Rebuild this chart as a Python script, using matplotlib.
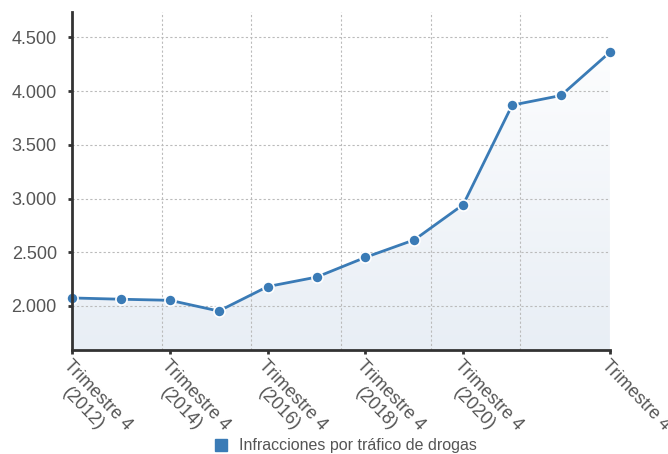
import numpy as np
import matplotlib
matplotlib.use("Agg")
import matplotlib.pyplot as plt
from matplotlib.patches import Polygon

plt.rcParams['font.family'] = ['Liberation Sans', 'DejaVu Sans']

# datos
years = list(range(2012, 2024))
values = [2075, 2063, 2053, 1953, 2181, 2269, 2453, 2616, 2944, 3870, 3960, 4363]
tick_idx = [0, 2, 4, 6, 8, 11]
tick_labels = ["Trimestre 4\n(2012)", "Trimestre 4\n(2014)", "Trimestre 4\n(2016)",
               "Trimestre 4\n(2018)", "Trimestre 4\n(2020)", "Trimestre 4"]
y_ticks = [2000, 2500, 3000, 3500, 4000, 4500]
y_labels = ["2.000", "2.500", "3.000", "3.500", "4.000", "4.500"]
series_name = "Infracciones por tráfico de drogas"

blue = "#3a7bb6"
text_col = "#555555"

fig = plt.figure(figsize=(6.68, 4.54), dpi=100)
ax = fig.add_axes([0.108, 0.229, 0.805, 0.744])

x = np.arange(len(values))
ymin, ymax = 1590, 4735
ax.set_xlim(0, len(values) - 1)
ax.set_ylim(ymin, ymax)

# relleno con degradado
grad = np.linspace(0, 1, 256).reshape(-1, 1)
img = ax.imshow(grad, extent=[0, len(values) - 1, ymin, ymax], origin='upper',
                aspect='auto', cmap=matplotlib.colors.LinearSegmentedColormap.from_list(
                    'g', ['#ffffff', '#e8eef5']), zorder=1)
poly = Polygon(list(zip(x, values)) + [(x[-1], ymin), (x[0], ymin)],
               closed=True, transform=ax.transData, facecolor='none', edgecolor='none')
ax.add_patch(poly)
img.set_clip_path(poly)

ax.plot(x, values, color=blue, lw=2, marker='o', ms=8, mfc=blue, mec='white',
        mew=1.2, zorder=4, clip_on=False)

# rejilla
ax.set_yticks(y_ticks)
ax.set_yticklabels(y_labels)
ax.set_xticks(tick_idx)
ax.set_xticklabels(tick_labels)
ax.set_xticks(np.linspace(0, len(values) - 1, 7), minor=True)
ax.grid(axis='y', which='major', color='#bbbbbb', ls=(0, (2, 2)), lw=0.8, zorder=2)
ax.grid(axis='x', which='minor', color='#bbbbbb', ls=(0, (2, 2)), lw=0.8, zorder=2)
ax.tick_params(axis='x', which='minor', length=0)

for s in ['top', 'right']:
    ax.spines[s].set_visible(False)
for s in ['left', 'bottom']:
    ax.spines[s].set_color('#333333')
    ax.spines[s].set_linewidth(2)
    ax.spines[s].set_zorder(5)

ax.tick_params(axis='y', which='major', length=3, width=2, color='#333333',
               labelsize=13, labelcolor=text_col, pad=8)
ax.tick_params(axis='x', which='major', length=3, width=2, color='#333333',
               labelsize=13, labelcolor=text_col, pad=2)
for lbl in ax.get_xticklabels():
    lbl.set_rotation(-46)
    lbl.set_rotation_mode('anchor')
    lbl.set_ha('left')
    lbl.set_va('top')
    lbl.set_multialignment('center')

# leyenda
fig.legend(handles=[plt.Line2D([], [], marker='s', ls='none', color=blue, ms=8.5)],
           labels=[series_name], loc='center', bbox_to_anchor=(0.51, 0.018),
           frameon=False, fontsize=11.5, handletextpad=0.1, labelcolor=text_col)

fig.savefig("out.png", dpi=100)
